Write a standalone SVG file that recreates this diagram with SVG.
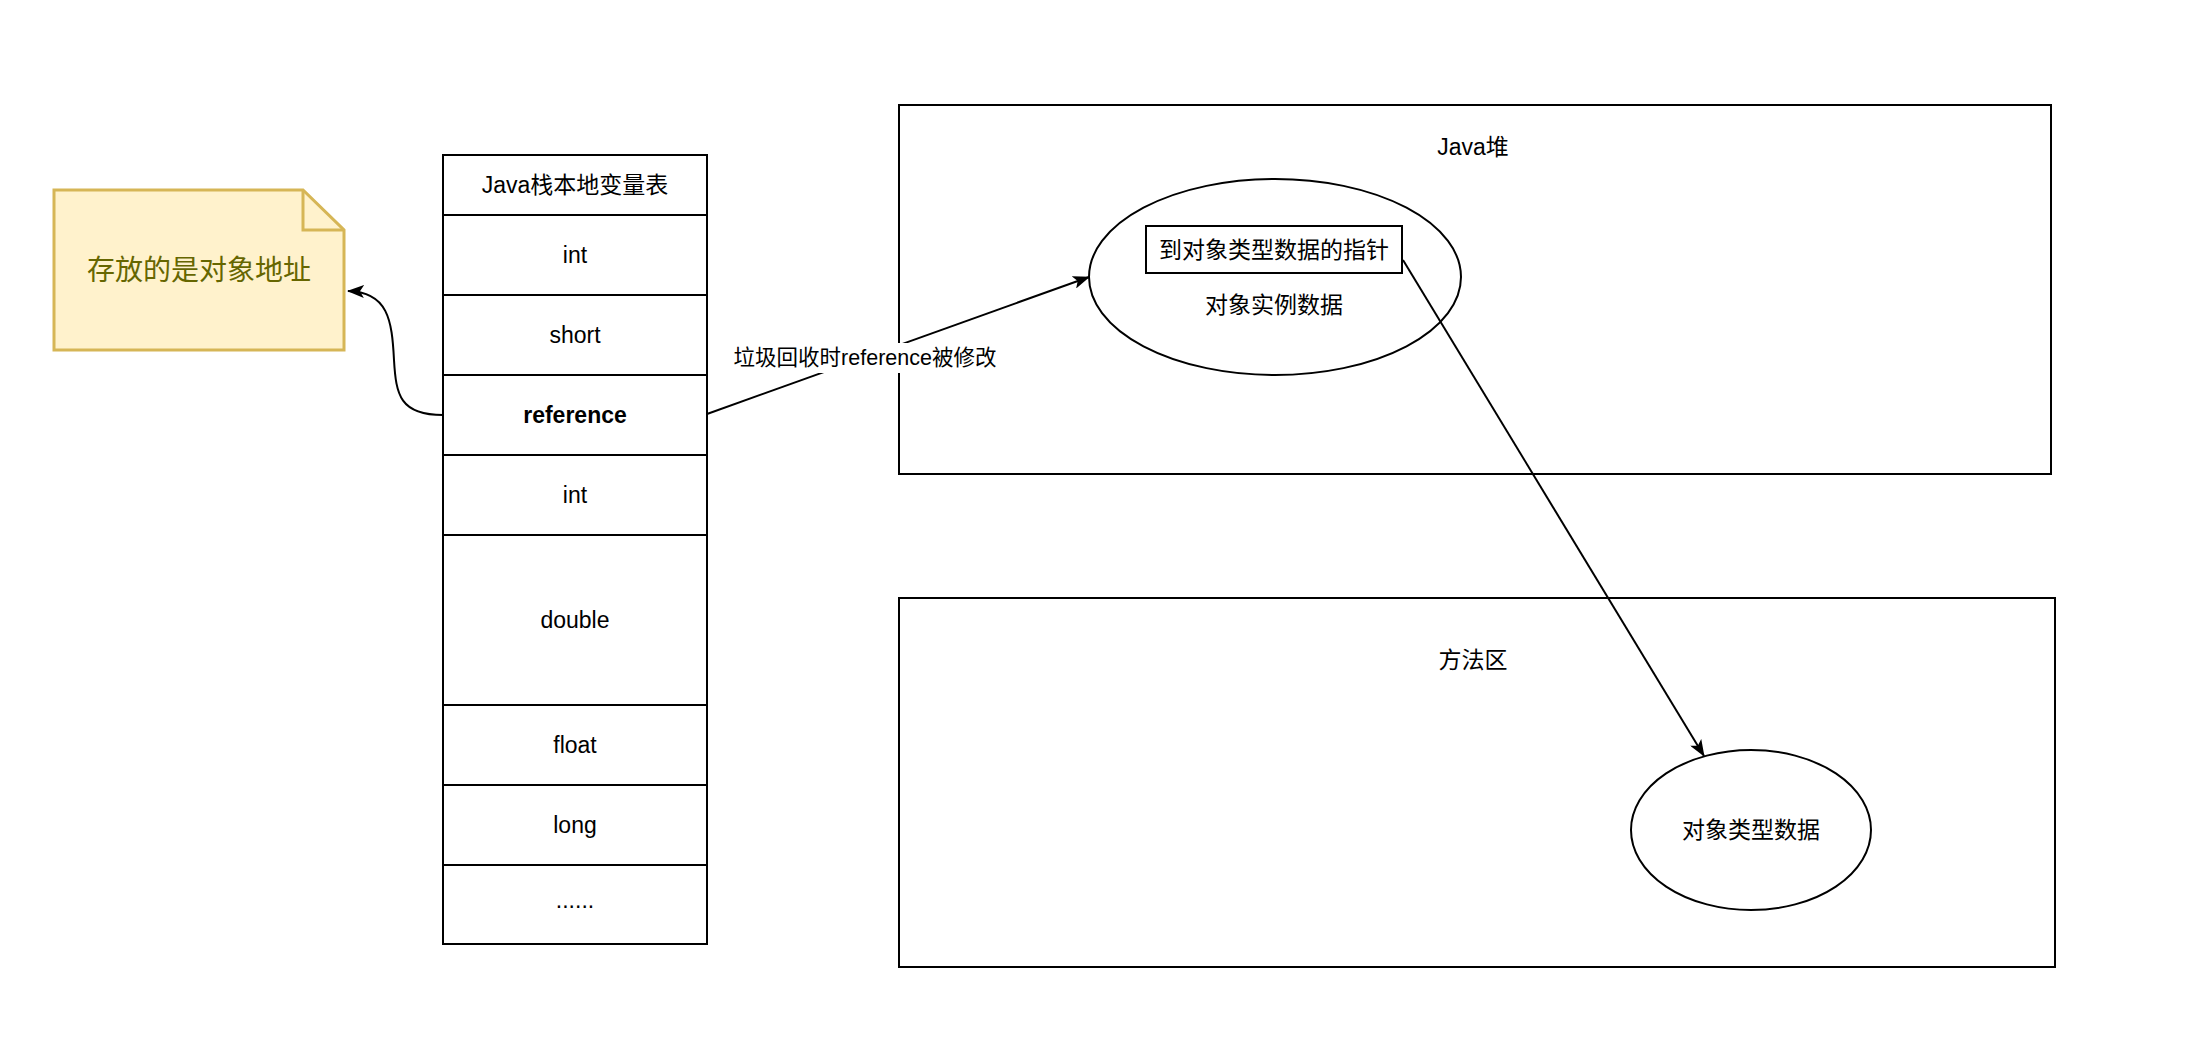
<svg xmlns="http://www.w3.org/2000/svg" width="2192" height="1058" viewBox="0 0 2192 1058">
<style>
  .box{fill:#ffffff;stroke:#000000;stroke-width:2}
  .thin{fill:#ffffff;stroke:#000000;stroke-width:2}
  .t{font-family:"Liberation Sans","Noto Sans CJK SC",sans-serif;font-size:23px;fill:#000000;text-anchor:middle;dominant-baseline:central}
  .lbl{font-family:"Liberation Sans","Noto Sans CJK SC",sans-serif;font-size:21.5px;fill:#000000;text-anchor:middle;dominant-baseline:central}
  .edge{fill:none;stroke:#000000;stroke-width:2}
</style>
<defs>
  <marker id="arr" viewBox="0 0 17 13" refX="16" refY="6.5" markerWidth="17" markerHeight="13" markerUnits="userSpaceOnUse" orient="auto">
    <path d="M0,0 L17,6.5 L0,13 L4,6.5 Z" fill="#000000"/>
  </marker>
</defs>
<rect width="2192" height="1058" fill="#ffffff"/>

<g id="note">
  <path d="M54,190 L303,190 L344,230 L344,350 L54,350 Z" fill="#fff2cc" stroke="#d6b656" stroke-width="3"/>
  <path d="M303,190 L303,230 L344,230" fill="none" stroke="#d6b656" stroke-width="3"/>
  <text x="199" y="270" class="t" style="font-size:28px;fill:#666600">存放的是对象地址</text>
</g>

<g id="stack">
  <rect x="443" y="155" width="264" height="60" class="box"/>
  <text x="575" y="185" class="t">Java栈本地变量表</text>
  <rect x="443" y="215" width="264" height="80" class="box"/>
  <text x="575" y="255" class="t">int</text>
  <rect x="443" y="295" width="264" height="80" class="box"/>
  <text x="575" y="335" class="t">short</text>
  <rect x="443" y="375" width="264" height="80" class="box"/>
  <text x="575" y="415" class="t" font-weight="bold">reference</text>
  <rect x="443" y="455" width="264" height="80" class="box"/>
  <text x="575" y="495" class="t">int</text>
  <rect x="443" y="535" width="264" height="170" class="box"/>
  <text x="575" y="620" class="t">double</text>
  <rect x="443" y="705" width="264" height="80" class="box"/>
  <text x="575" y="745" class="t">float</text>
  <rect x="443" y="785" width="264" height="80" class="box"/>
  <text x="575" y="825" class="t">long</text>
  <rect x="443" y="865" width="264" height="79" class="box"/>
  <text x="575" y="900" class="t">......</text>
</g>

<g id="heap">
  <rect x="899" y="105" width="1152" height="369" class="box"/>
  <text x="1473" y="147" class="t">Java堆</text>
</g>

<g id="method-area">
  <rect x="899" y="598" width="1156" height="369" class="box"/>
  <text x="1473" y="660" class="t">方法区</text>
</g>

<g id="instance">
  <ellipse cx="1275" cy="277" rx="186" ry="98" class="thin"/>
  <text x="1274" y="305" class="t">对象实例数据</text>
</g>

<g id="pointer">
  <rect x="1146" y="226" width="256" height="47" class="box"/>
  <text x="1274" y="250" class="t">到对象类型数据的指针</text>
</g>

<g id="type-data">
  <ellipse cx="1751" cy="830" rx="120" ry="80" class="thin"/>
  <text x="1751" y="830" class="t">对象类型数据</text>
</g>

<g id="connectors">
  <path class="edge" d="M443,415 C400,415 396,395 394,360 C392,320 388,292 348,291" marker-end="url(#arr)"/>
  <path class="edge" d="M707,414 L1089,277" marker-end="url(#arr)"/>
  <rect x="728" y="343" width="274" height="30" fill="#ffffff"/>
  <text x="865" y="358" class="lbl">垃圾回收时reference被修改</text>
  <path class="edge" d="M1403,260 L1704,756" marker-end="url(#arr)"/>
</g>
</svg>
